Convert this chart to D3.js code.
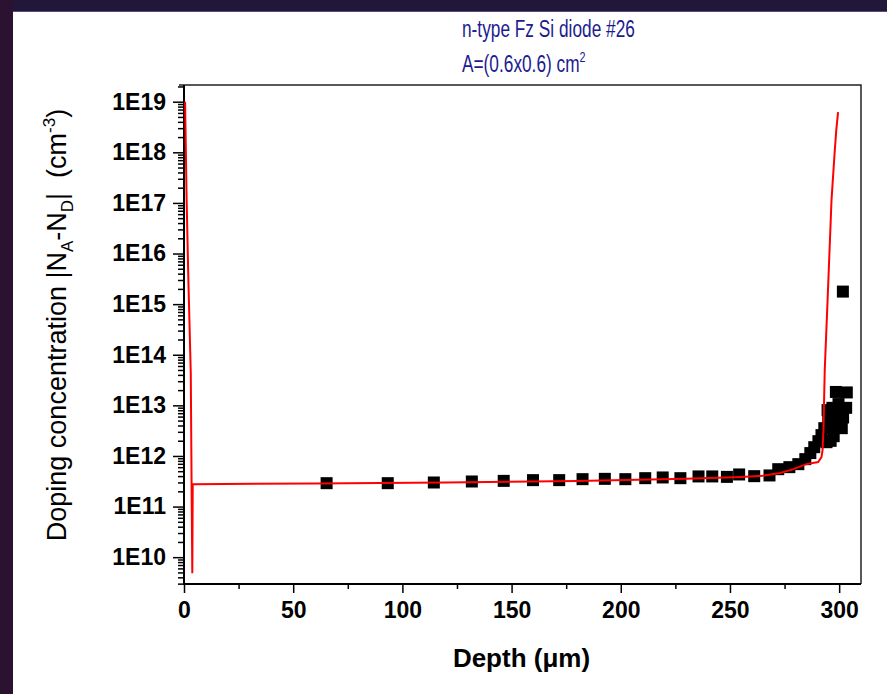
<!DOCTYPE html>
<html>
<head>
<meta charset="utf-8">
<script src="https://cdn.jsdelivr.net/npm/d3@7"></script>
<style>
  body { margin: 0; background: #fff; }
  svg { display: block; }
  text { font-family: "Liberation Sans", Arial, sans-serif; }
</style>
</head>
<body>
<div id="chart"></div>
<script>
// measured C-V profile (black squares)
const depthData = [65.3, 93.3, 114.4, 131.8, 146.4, 159.8, 171.8, 182.5, 192.7, 202.1,
  211.2, 219.2, 227.3, 235.6, 241.9, 248.6, 254.2, 261.1, 268.1, 272.1,
  277.2, 281.3, 284.5, 286.8, 288.6, 290.5, 291.9, 293.2, 295.0, 296.1,
  296.9, 299.1, 300.1, 301.8, 303.2, 298.5, 303.5, 301.7,
  299.7, 294.7, 297.5, 294.7, 301.2, 297.5, 294.2];
const concData = [2.90e11, 2.90e11, 2.99e11, 3.13e11, 3.22e11, 3.33e11, 3.33e11, 3.48e11, 3.53e11, 3.48e11,
  3.64e11, 3.76e11, 3.64e11, 3.94e11, 3.94e11, 3.86e11, 4.31e11, 3.99e11, 4.12e11, 5.48e11,
  6.01e11, 6.89e11, 8.65e11, 1.14e12, 1.49e12, 1.96e12, 2.58e12, 3.54e12, 5.58e12, 1.99e12,
  8.93e12, 3.66e12, 6.4e12, 5.76e12, 8.93e12, 1.84e13, 1.80e13, 1.77e15,
  1.06e13, 8.04e12, 5.1e12, 3.54e12, 3.54e12, 2.46e12, 1.87e12];

// simulated profile (red line)
const depthFit = [0.5, 1.2, 2.0, 3.1, 3.55, 3.8, 4.0, 60, 120, 180, 230, 255, 265, 273,
  279, 285, 290.4, 291.9, 292.4, 292.8, 293.4, 294.7, 296.5, 298.0, 298.7, 299.5];
const concFit = [1e19, 1.2e17, 3e15, 4.4e13, 1e11, 4.8e9, 2.77e11, 2.85e11, 3.0e11, 3.2e11,
  3.55e11, 3.85e11, 4.05e11, 4.6e11, 5.5e11, 6.9e11, 7.6e11, 9.5e11, 1.3e12, 3.2e12,
  5.0e13, 1.2e15, 1.15e17, 1.1e18, 2.8e18, 6.2e18];

const xTicks = [0, 50, 100, 150, 200, 250, 300];
const xMinor = [25, 75, 125, 175, 225, 275];
const yExponents = [10, 11, 12, 13, 14, 15, 16, 17, 18, 19];

const width = 887, height = 694;
const plot = { left: 184, top: 85, right: 861, bottom: 584 };

const svg = d3.select("#chart").append("svg")
  .attr("width", width)
  .attr("height", height);

// dark slide frame
svg.append("rect").attr("x", 0).attr("y", 0).attr("width", width).attr("height", 12).attr("fill", "#21173a");
svg.append("rect").attr("x", 0).attr("y", 11).attr("width", width).attr("height", 1).attr("fill", "#5a4a80");
svg.append("rect").attr("x", 0).attr("y", 0).attr("width", 13).attr("height", height).attr("fill", "#2a1230");

const x = d3.scaleLinear().domain([0, 310]).range([plot.left, plot.right]);
const y = d3.scaleLog().domain([Math.pow(10, 9.47), Math.pow(10, 19.33)]).range([plot.bottom, plot.top]);

// frame top/right
svg.append("path")
  .attr("d", `M${plot.left - 5},${plot.top}H${plot.right}V${plot.bottom}`)
  .attr("fill", "none").attr("stroke", "#222").attr("stroke-width", 1.5);

// minor y ticks
let yMinor = [];
yExponents.concat([9]).forEach(e => {
  for (let m = 2; m <= 9; m++) {
    let v = m * Math.pow(10, e);
    if (v >= y.domain()[0] && v <= y.domain()[1]) yMinor.push(v);
  }
});

const axisStyle = g => {
  g.select(".domain").remove();
  g.selectAll("line").attr("stroke", "#000").attr("stroke-width", 1.5);
  g.selectAll("text").attr("fill", "#000").style("font-size", "23px").style("font-weight", "bold");
};

svg.append("g")
  .attr("transform", `translate(${plot.left},0)`)
  .call(d3.axisLeft(y).tickValues(yMinor).tickSize(6).tickFormat(""))
  .call(axisStyle);

svg.append("g")
  .attr("transform", `translate(${plot.left},0)`)
  .call(d3.axisLeft(y).tickValues(yExponents.map(e => Math.pow(10, e))).tickSize(11).tickPadding(7)
    .tickFormat(d => "1E" + Math.round(Math.log10(d))))
  .call(axisStyle);

svg.append("g")
  .attr("transform", `translate(0,${plot.bottom})`)
  .call(d3.axisBottom(x).tickValues(xMinor).tickSize(5).tickFormat(""))
  .call(axisStyle);

svg.append("g")
  .attr("transform", `translate(0,${plot.bottom})`)
  .call(d3.axisBottom(x).tickValues(xTicks).tickSize(9).tickPadding(9).tickFormat(d3.format("d")))
  .call(axisStyle);

// axis lines
svg.append("line").attr("x1", plot.left).attr("x2", plot.left).attr("y1", plot.top).attr("y2", plot.bottom + 1)
  .attr("stroke", "#000").attr("stroke-width", 2);
svg.append("line").attr("x1", plot.left - 1).attr("x2", plot.right).attr("y1", plot.bottom).attr("y2", plot.bottom)
  .attr("stroke", "#000").attr("stroke-width", 2);

// data squares
const sq = 12;
svg.append("g").selectAll("rect")
  .data(d3.zip(depthData, concData))
  .enter().append("rect")
    .attr("x", d => x(d[0]) - sq / 2)
    .attr("y", d => y(d[1]) - sq / 2)
    .attr("width", sq).attr("height", sq)
    .attr("fill", "#000");

// fit line
const line = d3.line().x(d => x(d[0])).y(d => y(d[1]));
svg.append("path")
  .datum(d3.zip(depthFit, concFit))
  .attr("d", line)
  .attr("fill", "none")
  .attr("stroke", "#ff0000")
  .attr("stroke-width", 2);

// title (condensed font like the original)
const title = svg.append("g").attr("fill", "#1c1c8f")
  .attr("transform", "translate(462,0) scale(0.72,1)");
title.append("text").attr("x", 0).attr("y", 37)
  .style("font-size", "24px")
  .text("n-type Fz Si diode #26");
const t2 = title.append("text").attr("x", 0).attr("y", 72).style("font-size", "24px");
t2.append("tspan").text("A=(0.6x0.6) cm");
t2.append("tspan").attr("dy", -10).style("font-size", "15px").text("2");

// axis titles
svg.append("text")
  .attr("x", (plot.left + plot.right) / 2 - 1)
  .attr("y", 667)
  .attr("text-anchor", "middle")
  .style("font-size", "26px").style("font-weight", "bold")
  .text("Depth (\u03bcm)");

const yl = svg.append("text")
  .attr("transform", "rotate(-90)")
  .attr("x", -325).attr("y", 66)
  .attr("text-anchor", "middle")
  .style("font-size", "27px")
  .style("white-space", "pre");
yl.append("tspan").text("Doping concentration |N");
yl.append("tspan").attr("dy", 7).style("font-size", "17px").text("A");
yl.append("tspan").attr("dy", -7).text("-N");
yl.append("tspan").attr("dy", 7).style("font-size", "17px").text("D");
yl.append("tspan").attr("dy", -7).text("|  (cm");
yl.append("tspan").attr("dy", -11).style("font-size", "17px").text("-3");
yl.append("tspan").attr("dy", 11).text(")");
</script>
</body>
</html>
